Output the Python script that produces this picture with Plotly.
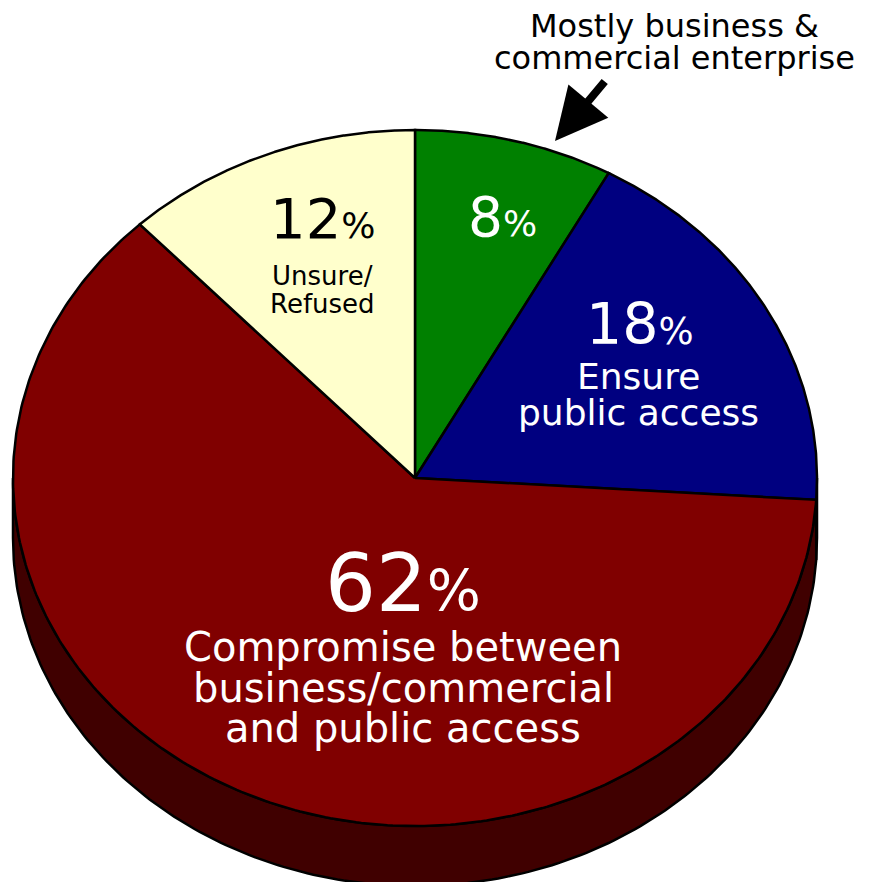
import numpy as np
import plotly.graph_objects as go

# data
labels = ["Mostly business &<br>commercial enterprise", "Ensure<br>public access",
          "Compromise between<br>business/commercial<br>and public access", "Unsure/<br>Refused"]
values = [8, 18, 62, 12]
colors = ["#008000", "#000080", "#800000", "#FFFFCC"]
side_colors = ["#004000", "#000040", "#400000", "#808066"]

# ellipse geometry (pixel space)
cx, cy, rx, ry, depth = 415, 478, 402, 348, 60


def pt(t, dy=0):
    return cx + rx * np.sin(t), cy - ry * np.cos(t) + dy


fig = go.Figure()

bounds = np.cumsum([0] + values) / sum(values) * 2 * np.pi

# side walls (front half only)
for i in range(len(values)):
    a, b = max(bounds[i], np.pi / 2), min(bounds[i + 1], 3 * np.pi / 2)
    if a >= b:
        continue
    t = np.linspace(a, b, 200)
    x1, y1 = pt(t)
    x2, y2 = pt(t[::-1], depth)
    fig.add_trace(go.Scatter(x=np.r_[x1, x2, x1[:1]], y=np.r_[y1, y2, y1[:1]], mode="lines",
                             fill="toself", fillcolor=side_colors[i],
                             line=dict(color="black", width=2.5), hoverinfo="skip", showlegend=False))

# top faces
for i in range(len(values)):
    t = np.linspace(bounds[i], bounds[i + 1], 300)
    x, y = pt(t)
    fig.add_trace(go.Scatter(x=np.r_[cx, x, cx], y=np.r_[cy, y, cy], mode="lines",
                             fill="toself", fillcolor=colors[i],
                             line=dict(color="black", width=2.5), hoverinfo="skip", showlegend=False))

font = "DejaVu Sans"


def pct(v, size, ratio):
    return f"{v}<span style='font-size:{int(size * ratio)}px'>%</span>"


# percentage labels: (x, y, size, colour, % ratio)
pct_pos = [(502, 217, 55, "white", 0.66),
           (640, 324, 57, "white", 0.66),
           (403, 583, 80, "white", 0.72),
           (322, 218, 56, "black", 0.66)]

for i, (x, y, s, c, r) in enumerate(pct_pos):
    fig.add_annotation(x=x, y=y, text=pct(values[i], s, r), showarrow=False,
                       font=dict(family=font, size=s, color=c))

# slice descriptions, one annotation per line: (slice, x, first y, line gap, size, colour)
desc_pos = [(1, 638, 376, 36, 36, "white"),
            (2, 403, 647, 40.5, 40, "white"),
            (3, 322, 276, 28, 26, "black"),
            (0, 674, 26, 32, 32, "black")]

for i, x, y0, gap, s, c in desc_pos:
    for k, line in enumerate(labels[i].split("<br>")):
        fig.add_annotation(x=x, y=y0 + k * gap, text=line, showarrow=False,
                           font=dict(family=font, size=s, color=c))

# callout arrow for the small slice
fig.add_annotation(x=555, y=141, ax=606, ay=80, axref="x", ayref="y", xref="x", yref="y",
                   text="", showarrow=True, arrowhead=2, arrowsize=1.3, arrowwidth=8,
                   arrowcolor="black")

fig.update_layout(
    width=874, height=874,
    margin=dict(l=0, r=0, t=0, b=0),
    paper_bgcolor="white", plot_bgcolor="white",
    xaxis=dict(range=[8, 882], visible=False, fixedrange=True),
    yaxis=dict(range=[882, 8], visible=False, fixedrange=True),
)

fig.write_html("out.html")
